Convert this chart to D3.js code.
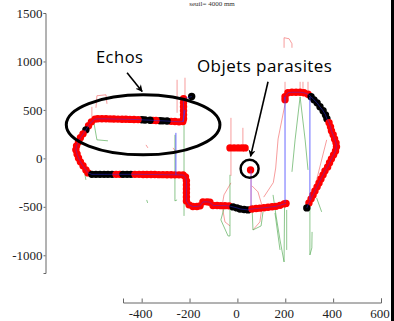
<!DOCTYPE html>
<html>
<head>
<meta charset="utf-8">
<script src="https://cdn.jsdelivr.net/npm/d3@7"></script>
<style>
  html, body { margin: 0; padding: 0; background: #fff; }
  svg { display: block; }
</style>
</head>
<body>
<svg id="chart" width="394" height="321"></svg>
<script>
// axes
const xTicks = [-400, -200, 0, 200, 400, 600];
const yTicks = [-1000, -500, 0, 500, 1000, 1500];

// contour points [x, y, black?]  (mm)
const echoContour = [
  [-191, 638, 1],
  [-225, 615, 0], [-225, 573, 0], [-225, 532, 0], [-225, 491, 0], [-225, 449, 0], [-225, 408, 0], [-228, 380, 0],
  [-244, 377, 0], [-261, 380, 0], [-277, 382, 0], [-294, 385, 1], [-311, 387, 1], [-323, 388, 1], [-340, 390, 0],
  [-353, 392, 0], [-365, 394, 1], [-386, 396, 1], [-399, 398, 1], [-415, 400, 0], [-432, 401, 0], [-449, 402, 0],
  [-466, 403, 0], [-482, 404, 0], [-499, 405, 0], [-516, 406, 0], [-532, 407, 0], [-549, 408, 0], [-566, 408, 0],
  [-583, 408, 0], [-595, 405, 0],
  [-610, 377, 0], [-622, 336, 0], [-633, 294, 1], [-645, 253, 0], [-656, 212, 0], [-664, 170, 0], [-672, 129, 0],
  [-675, 88, 0], [-670, 46, 0], [-664, 5, 0], [-656, -36, 0], [-645, -77, 0], [-633, -119, 0], [-624, -150, 0],
  [-608, -165, 1], [-591, -165, 1], [-574, -165, 1], [-557, -165, 1], [-541, -165, 1], [-524, -165, 1],
  [-507, -165, 0], [-491, -165, 0], [-478, -165, 1], [-461, -165, 1], [-445, -165, 1], [-428, -165, 0],
  [-411, -165, 0], [-394, -166, 0], [-378, -166, 0], [-361, -167, 0], [-345, -167, 0], [-328, -168, 0],
  [-311, -168, 0], [-294, -169, 0], [-277, -169, 0], [-261, -170, 0], [-244, -170, 0], [-227, -172, 0],
  [-217, -191, 0], [-213, -232, 0], [-213, -274, 0], [-213, -315, 0], [-213, -356, 0], [-213, -398, 0],
  [-213, -439, 0], [-202, -480, 0],
  [-186, -496, 0], [-169, -496, 0], [-156, -490, 0],
  [-144, -449, 0], [-127, -449, 0], [-115, -452, 0],
  [-102, -486, 0], [-85, -486, 0], [-69, -488, 0], [-52, -488, 0], [-35, -490, 0],
  [-18, -501, 1], [-2, -511, 1], [11, -522, 1], [28, -527, 1], [44, -532, 1],
  [61, -522, 0], [78, -518, 0], [94, -514, 0], [111, -510, 0], [128, -505, 0], [145, -500, 0],
  [161, -495, 0], [178, -485, 0], [195, -470, 0], [203, -465, 0]
];

const rightContour = [
  [199, 604, 0], [199, 635, 0], [211, 677, 0], [228, 682, 0], [245, 682, 0], [262, 682, 0], [278, 677, 0], [295, 661, 0],
  [308, 635, 1], [320, 604, 1], [333, 573, 1], [345, 532, 1], [358, 491, 1], [368, 449, 1], [374, 408, 1],
  [383, 367, 0], [389, 325, 0], [393, 284, 0], [400, 243, 0], [406, 201, 0], [412, 160, 0], [414, 119, 0],
  [410, 77, 0], [402, 36, 0], [393, -5, 0], [385, -46, 0], [377, -88, 0], [366, -129, 0], [358, -170, 0],
  [349, -212, 0], [341, -253, 0], [333, -294, 0], [324, -336, 0], [316, -377, 0], [308, -418, 0],
  [299, -460, 0], [290, -511, 1]
];

const parasiteDots = [[-31, 108, 0], [-14, 108, 0], [3, 108, 0], [19, 108, 0], [32, 108, 0], [55, -119, 0]];

// raw traces
const redTraces = [
  [[-591, 522], [-587, 646], [-549, 656], [-545, 563]],
  [[-608, 532], [-608, 429]],
  [[-252, 811], [-252, 470]],
  [[-219, 832], [-219, 615]],
  [[-382, 139], [-374, 108]],
  [[-269, 108], [-257, 67]],
  [[-27, 418], [-27, -181]],
  [[23, 315], [23, 139]],
  [[-27, -253], [-56, -377], [-64, -490], [-52, -656], [-31, -697]],
  [[61, -284], [86, -346], [103, -490], [94, -656], [65, -739]],
  [[199, 790], [199, 635]],
  [[262, 790], [262, 687]],
  [[274, 790], [274, 687]],
  [[295, 790], [295, 677]],
  [[195, 1141], [195, 1245], [216, 1234], [228, 1183], [228, 1141]],
  [[199, 560], [170, 200], [160, -100], [150, -250], [110, -400]],
  [[373, 191], [331, -222]]
];

const greenTraces = [
  [[-603, 418], [-587, 191], [-541, 181]],
  [[-649, -15], [-633, -222]],
  [[-261, 243], [-261, -439], [-252, -429]],
  [[-223, 470], [-223, -594]],
  [[-379, -429], [-375, -460]],
  [[-52, -480], [-69, -635], [-39, -801], [-31, -801], [-31, -170]],
  [[61, -480], [65, -739], [99, -697], [107, -552]],
  [[149, -377], [161, -584], [178, -842], [195, -1069], [197, -480]],
  [[303, -429], [303, -997], [311, -924], [312, -759]],
  [[228, -139], [241, 191], [262, 635], [283, 191], [295, -119]],
  [[157, -563], [178, -945]],
  [[206, -532], [206, -945]],
  [[331, -408], [352, -552]]
];

const blueTraces = [
  [[-257, 263], [-257, -170]],
  [[199, 635], [199, -449]],
  [[303, 635], [303, -429]],
  [[-219, 501], [-227, 377]]
];
const purpleTraces = [
  [[57, -119], [57, -490]]
];

// annotations (mm)
const echoLabel = { text: 'Echos', x: -591, y: 987 };
const parasiteLabel = { text: 'Objets parasites', x: -169, y: 894 };
const echoEllipse = { cx: -394, cy: 346, rx: 321, ry: 310 };
const echoArrow = [[-461, 883], [-398, 690]];
const parasiteArrow = [[128, 790], [55, 20]];
const parasiteCircle = { cx: 51, cy: -108 };

const svg = d3.select('#chart');

const x = d3.scaleLinear().domain([-478, 600]).range([123, 381]);
const y = d3.scaleLinear().domain([-1183, 1500]).range([273, 13]);

const line = d3.line()
  .x(function (d) { return x(d[0]); })
  .y(function (d) { return y(d[1]); });

svg.append('defs').append('marker')
  .attr('id', 'head')
  .attr('viewBox', '0 0 10 10')
  .attr('refX', 9)
  .attr('refY', 5)
  .attr('markerWidth', 4.5)
  .attr('markerHeight', 4.5)
  .attr('orient', 'auto')
  .append('path')
  .attr('d', 'M0,0 L10,5 L0,10 L3,5 z')
  .attr('fill', '#000');

// title
svg.append('text')
  .attr('x', 212)
  .attr('y', 6)
  .attr('text-anchor', 'middle')
  .attr('font-family', 'Liberation Serif, serif')
  .attr('font-size', 7)
  .attr('fill', '#333')
  .text('seuil= 4000 mm');

// axes
const fmt = function (d) { return String(d); };

const xAxis = d3.axisBottom(x)
  .tickValues(xTicks)
  .tickFormat(fmt)
  .tickSizeInner(-4)
  .tickSizeOuter(-4)
  .tickPadding(6);

const yAxis = d3.axisLeft(y)
  .tickValues(yTicks)
  .tickFormat(fmt)
  .tickSizeInner(2)
  .tickSizeOuter(2)
  .tickPadding(1);

const gx = svg.append('g')
  .attr('transform', 'translate(0,302.5)')
  .call(xAxis);
const gy = svg.append('g')
  .attr('transform', 'translate(45.5,0)')
  .call(yAxis);

[gx, gy].forEach(function (g) {
  g.attr('font-family', null).attr('font-size', null);
  g.selectAll('path, line').attr('stroke', '#666');
  g.selectAll('text')
    .attr('fill', '#222')
    .style('font-family', '"Liberation Serif", serif')
    .style('font-size', '13px');
});
gx.selectAll('text').attr('dx', -1.5);

// thin traces
svg.selectAll('.red-trace')
  .data(redTraces)
  .enter()
  .append('path')
  .attr('class', 'red-trace')
  .attr('d', line)
  .attr('fill', 'none')
  .attr('stroke', '#f25a5a')
  .attr('stroke-opacity', 0.75)
  .attr('stroke-width', 0.8);

svg.selectAll('.green-trace')
  .data(greenTraces)
  .enter()
  .append('path')
  .attr('class', 'green-trace')
  .attr('d', line)
  .attr('fill', 'none')
  .attr('stroke', '#55aa55')
  .attr('stroke-opacity', 0.85)
  .attr('stroke-width', 0.8);

// dots
const dots = echoContour.concat(rightContour, parasiteDots);
svg.selectAll('.dot')
  .data(dots)
  .enter()
  .append('circle')
  .attr('class', 'dot')
  .attr('cx', function (d) { return x(d[0]); })
  .attr('cy', function (d) { return y(d[1]); })
  .attr('r', 3.7)
  .attr('fill', function (d) { return d[2] ? '#000' : '#ff0000'; });

// blue line over the contour
[echoContour, rightContour].forEach(function (c) {
  svg.append('path')
    .datum(c)
    .attr('d', line)
    .attr('fill', 'none')
    .attr('stroke', '#3030ff')
    .attr('stroke-opacity', 0.55)
    .attr('stroke-width', 0.8);
});

svg.selectAll('.blue-trace')
  .data(blueTraces)
  .enter()
  .append('path')
  .attr('class', 'blue-trace')
  .attr('d', line)
  .attr('fill', 'none')
  .attr('stroke', '#3a3aff')
  .attr('stroke-opacity', 0.85)
  .attr('stroke-width', 0.9);

svg.selectAll('.purple-trace')
  .data(purpleTraces)
  .enter()
  .append('path')
  .attr('class', 'purple-trace')
  .attr('d', line)
  .attr('fill', 'none')
  .attr('stroke', '#9030c0')
  .attr('stroke-width', 0.9);

// annotations
svg.append('ellipse')
  .attr('cx', x(echoEllipse.cx))
  .attr('cy', y(echoEllipse.cy))
  .attr('rx', x(echoEllipse.cx + echoEllipse.rx) - x(echoEllipse.cx))
  .attr('ry', y(echoEllipse.cy) - y(echoEllipse.cy + echoEllipse.ry))
  .attr('fill', 'none')
  .attr('stroke', '#000')
  .attr('stroke-width', 3);

svg.append('circle')
  .attr('cx', x(parasiteCircle.cx))
  .attr('cy', y(parasiteCircle.cy))
  .attr('r', 9)
  .attr('fill', 'none')
  .attr('stroke', '#000')
  .attr('stroke-width', 2.5);

[echoArrow, parasiteArrow].forEach(function (a) {
  svg.append('path')
    .datum(a)
    .attr('d', line)
    .attr('stroke', '#000')
    .attr('stroke-width', 1.6)
    .attr('marker-end', 'url(#head)');
});

svg.append('text')
  .attr('x', x(echoLabel.x))
  .attr('y', y(echoLabel.y))
  .attr('font-family', 'Open Sans, sans-serif')
  .attr('font-size', 16.5)
  .attr('textLength', 47)
  .attr('fill', '#000')
  .text(echoLabel.text);

svg.append('text')
  .attr('x', x(parasiteLabel.x))
  .attr('y', y(parasiteLabel.y))
  .attr('font-family', 'Open Sans, sans-serif')
  .attr('font-size', 17)
  .attr('textLength', 135)
  .attr('fill', '#000')
  .text(parasiteLabel.text);

// figure edge
svg.append('rect')
  .attr('x', 391)
  .attr('y', 0)
  .attr('width', 3)
  .attr('height', 321)
  .attr('fill', '#000');
</script>
</body>
</html>
